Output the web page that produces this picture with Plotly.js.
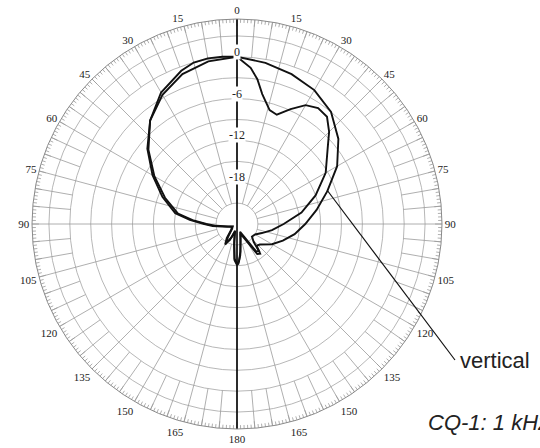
<!DOCTYPE html>
<html><head><meta charset="utf-8">
<script src="https://cdn.plot.ly/plotly-3.0.1.min.js"></script>
<style>html,body{margin:0;padding:0;background:#fff}#chart{width:540px;height:448px}</style>
</head><body><div id="chart"></div>
<script>
// ---- data (angles in degrees, clockwise from front; levels in dB) ----
const seriesNames = ['vertical', 'horizontal'];
const vertAngles = [-180,-176,-172,-165,-158,-150,-144,-135,-120,-105,-95,-90,-85,-80,-70,-60,-50,-40,-30,-20,-10,0,10,20,30,40,50,60,70,80,90,100,110,120,132,138,142,146,152,160,168,174,178,180];
const vertLevels = [-18.1,-18.8,-21,-23,-22,-20.6,-21.5,-22.8,-23.2,-22.5,-20.5,-19.3,-17.2,-15,-12.6,-10,-7.2,-4.6,-2.6,-1.1,-0.3,0,-0.5,-1.1,-1.8,-3.0,-5.0,-7.4,-10.2,-12.4,-14.2,-15.6,-17,-18.2,-19.6,-19.8,-18.6,-18.8,-21.5,-22.5,-21.5,-19.5,-18.3,-18.1];
const horizAngles = [-180,-176,-171,-163,-156,-150,-145,-135,-120,-105,-95,-90,-85,-80,-70,-60,-50,-40,-30,-20,-15,-10,-5,0,5,8,11,16,20,25,30,35,40,45,50,60,70,80,90,100,110,120,130,137,141,145,150,158,166,173,177,180];
const horizLevels = [-18.3,-19,-21.5,-22.8,-21.5,-20.8,-21.8,-23,-23.3,-22.7,-21,-19.6,-17.6,-15.4,-13,-10.3,-7.4,-4.6,-2.2,-0.6,0,0.15,0.1,0,-1.5,-3.0,-5.0,-7.0,-7.3,-5.8,-4.3,-3.7,-3.9,-5.3,-7.0,-9.3,-12.0,-14.6,-17.3,-18.9,-20.2,-21,-21.2,-20.5,-19.0,-19.2,-21.8,-22.8,-22,-20,-18.6,-18.3];
const ringLevels = [-21,-18,-15,-12,-9,-6,-3,0,3];
const ringLabelLevels = [0,-6,-12,-18];
const ringLabels = ['0','-6','-12','-18'];
const angleTickVals = [0,15,30,45,60,75,90,105,120,135,150,165,180,195,210,225,240,255,270,285,300,315,330,345];
const angleTickText = ['0','15','30','45','60','75','90','105','120','135','150','165','180','165','150','135','120','105','90','75','60','45','30','15'];
const chartTitle = 'CQ-1: 1 kHz';
const leaderLabel = 'vertical';

// ---- geometry / styling ----
const W = 540, H = 448;
const M = {l: 32, r: 98, t: 19, b: 19};
const RMIN = -24, RMAX = 5.43;
const PW = W - M.l - M.r, PH = H - M.t - M.b;
const CX = M.l + PW / 2, CY = M.t + PH / 2, RAD = PW / 2;
const px2paperX = x => (x - M.l) / PW;
const px2paperY = y => (H - M.b - y) / PH;
const lvl2px = v => RAD * (v - RMIN) / (RMAX - RMIN);
const SERIF = 'Liberation Serif';

// grid spokes
const sr = [], st = [];
for (let a = 0; a < 360; a += 5) {
  const r0 = (a % 15 === 0) ? -21 : 0;
  sr.push(r0, RMAX, null); st.push(a, a, null);
}
// outer tick marks
const tr = [], tt = [];
for (let a = 0; a < 360; a += 1) {
  const len = (a % 5 === 0) ? 1.0 : 0.55;
  tr.push(RMAX - len, RMAX, null); tt.push(a, a, null);
}

const traces = [
  {type: 'scatterpolar', mode: 'lines', r: sr, theta: st, line: {color: '#9a9a9a', width: 0.8}, hoverinfo: 'skip', showlegend: false},
  {type: 'scatterpolar', mode: 'lines', r: tr, theta: tt, line: {color: '#9a9a9a', width: 0.8}, hoverinfo: 'skip', showlegend: false},
  {type: 'scatterpolar', mode: 'lines', r: [RMAX, RMAX], theta: [0, 180], line: {color: '#000', width: 1.6}, hoverinfo: 'skip', showlegend: false},
  {type: 'scatterpolar', mode: 'lines', name: seriesNames[1], r: horizLevels, theta: horizAngles, line: {color: '#111', width: 1.9}, showlegend: false},
  {type: 'scatterpolar', mode: 'lines', name: seriesNames[0], r: vertLevels, theta: vertAngles, line: {color: '#111', width: 1.9}, showlegend: false}
];

const annotations = ringLabelLevels.map((v, i) => ({
  xref: 'paper', yref: 'paper', x: px2paperX(CX), y: px2paperY(CY - lvl2px(v) - 5), xanchor: 'center', yanchor: 'middle',
  text: ringLabels[i], showarrow: false, bgcolor: '#fff', borderpad: 0,
  font: {family: SERIF, size: 12, color: '#222'}
}));
annotations.push({xref: 'paper', yref: 'paper', x: px2paperX(458), y: px2paperY(360), xanchor: 'left', yanchor: 'middle',
  text: leaderLabel, showarrow: false, font: {family: 'Liberation Sans', size: 22, color: '#222'}});
annotations.push({xref: 'paper', yref: 'paper', x: px2paperX(426), y: px2paperY(422), xanchor: 'left', yanchor: 'middle',
  text: '<i>' + chartTitle + '</i>', showarrow: false, font: {family: 'Liberation Sans', size: 22, color: '#222'}});

const layout = {
  width: W, height: H, margin: M, paper_bgcolor: '#fff', showlegend: false,
  polar: {
    domain: {x: [0, 1], y: [0, 1]}, bgcolor: '#fff',
    angularaxis: {rotation: 90, direction: 'clockwise', showgrid: false, showline: true, linecolor: '#8a8a8a', linewidth: 1,
      ticks: '', tickmode: 'array', tickvals: angleTickVals, ticktext: angleTickText,
      tickfont: {family: SERIF, size: 11, color: '#222'}},
    radialaxis: {range: [RMIN, RMAX], tickmode: 'array', tickvals: ringLevels, showticklabels: false, ticks: '', showline: false,
      showgrid: true, gridcolor: '#a5a5a5', gridwidth: 0.8}
  },
  shapes: [{type: 'line', xref: 'paper', yref: 'paper', x0: px2paperX(327), y0: px2paperY(190), x1: px2paperX(455), y1: px2paperY(360),
    line: {color: '#111', width: 1.2}}],
  annotations: annotations
};

Plotly.newPlot('chart', traces, layout, {staticPlot: true});
</script></body></html>
